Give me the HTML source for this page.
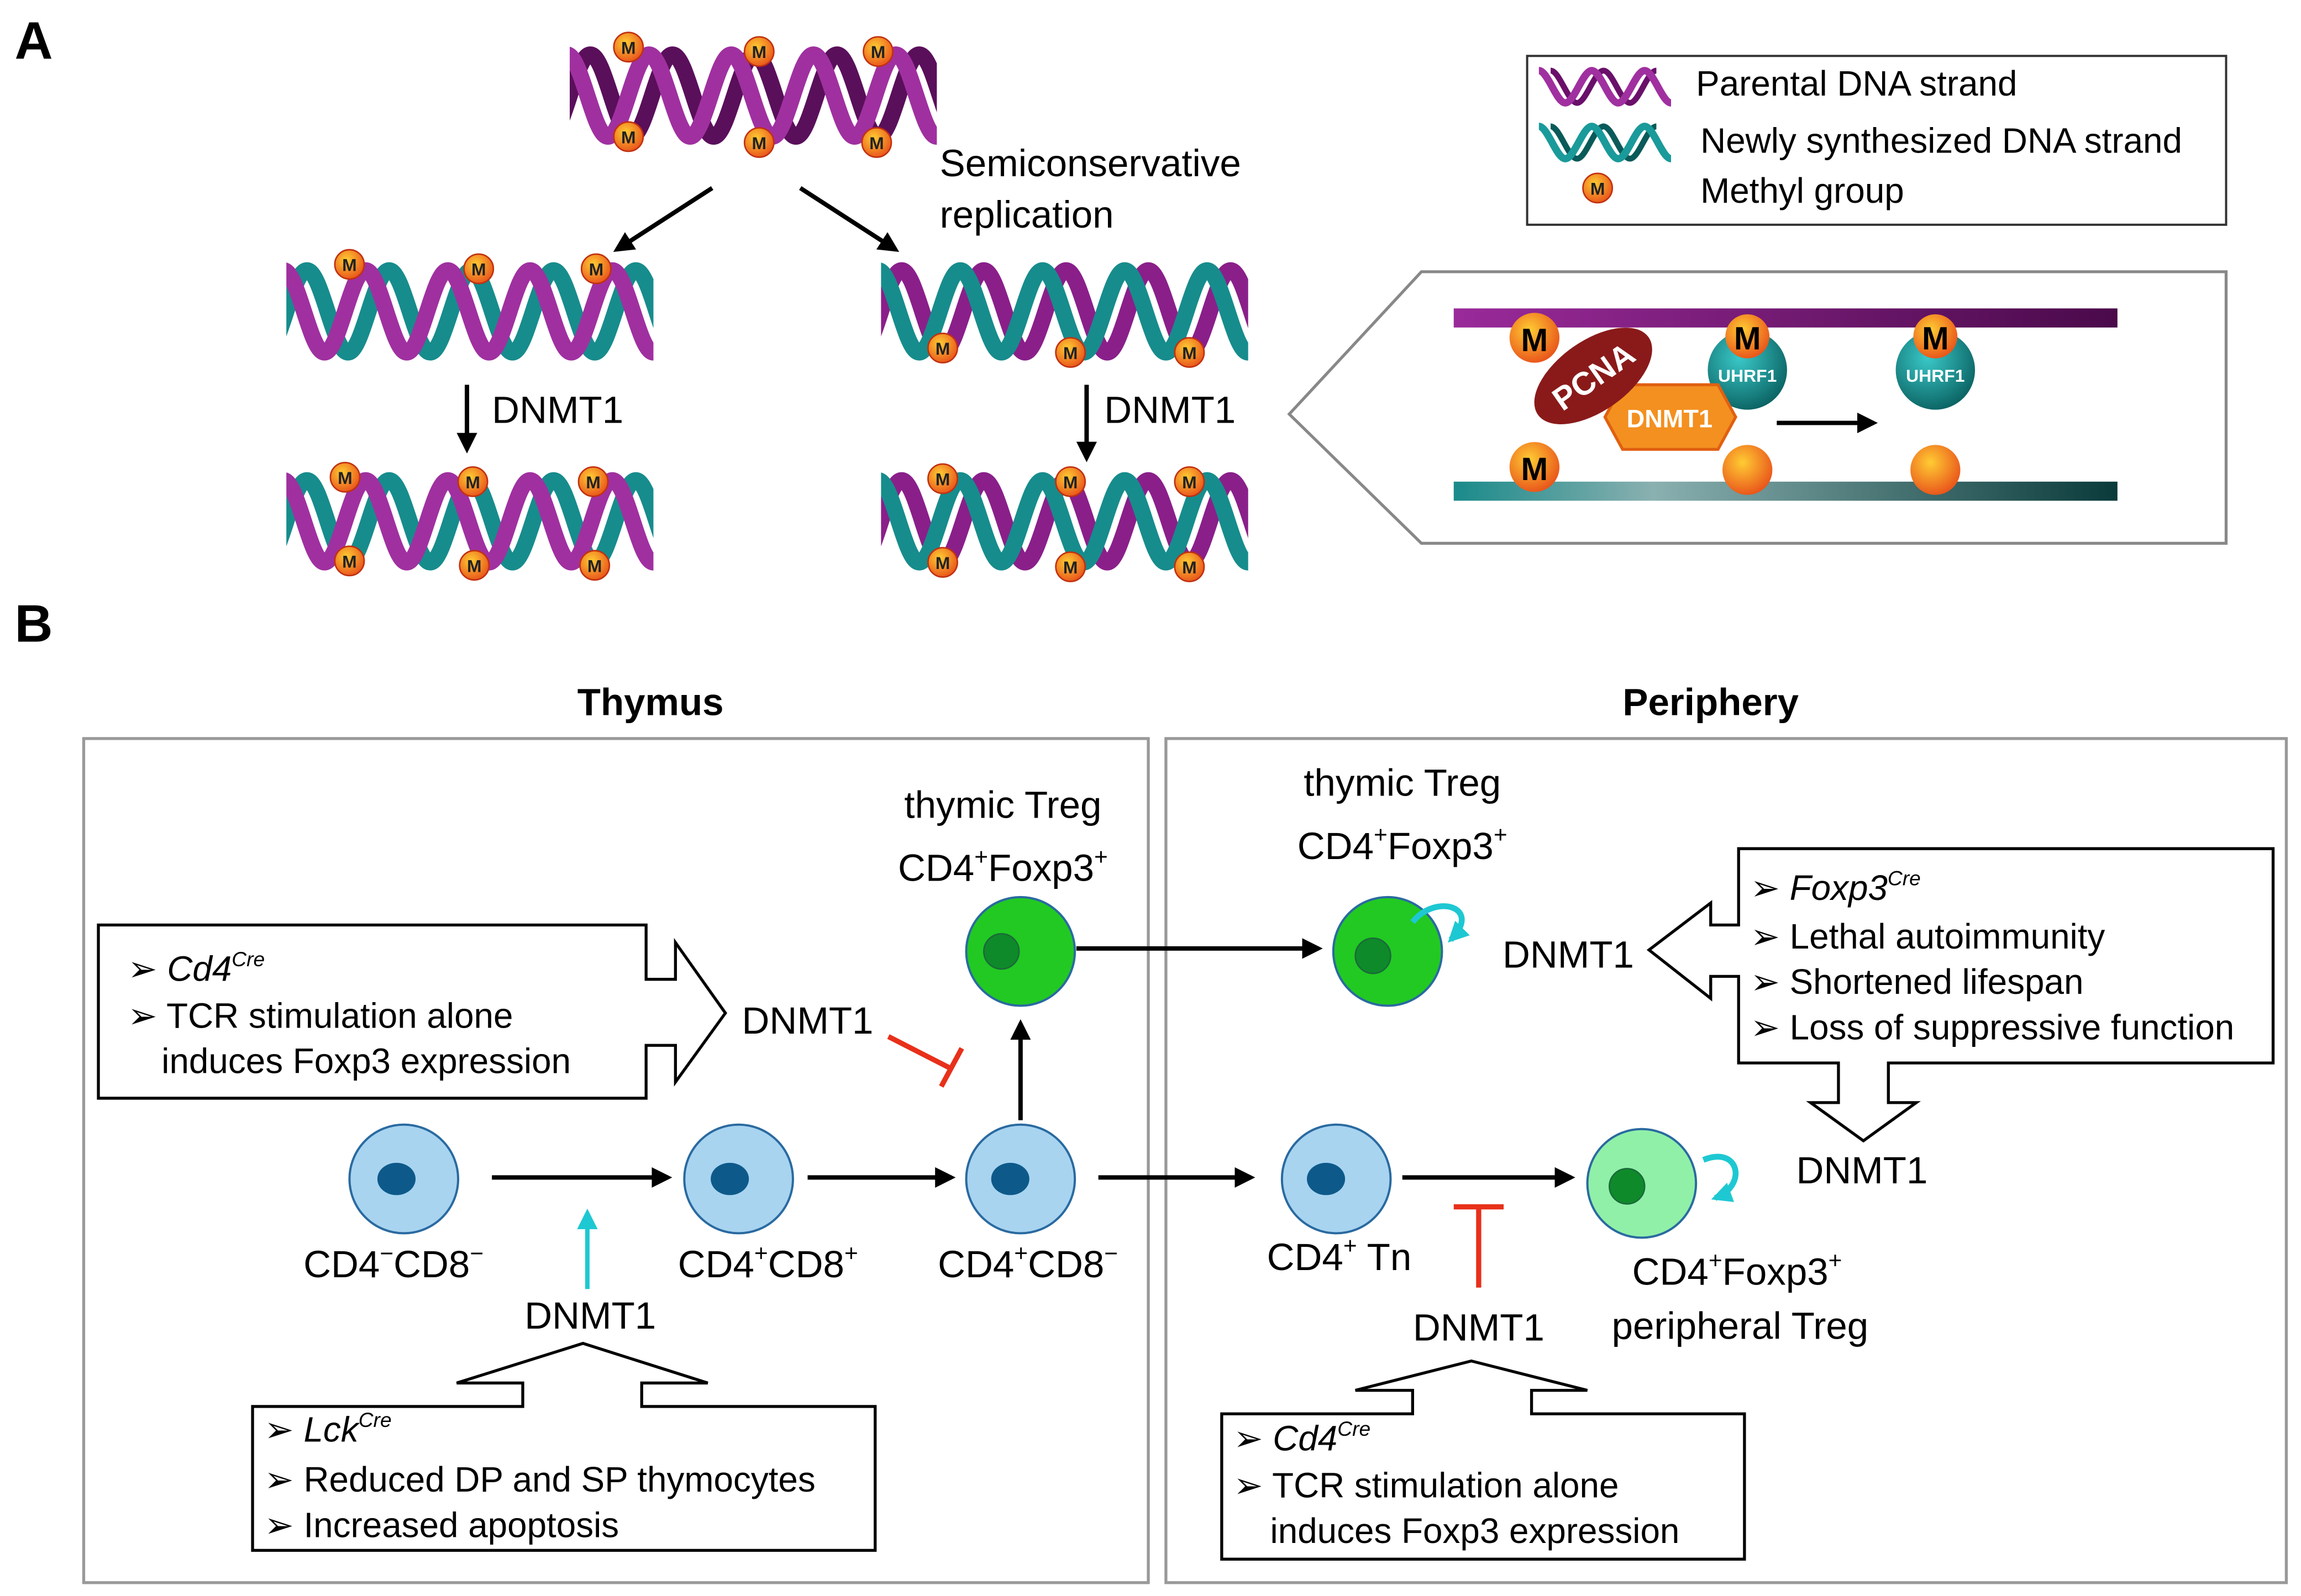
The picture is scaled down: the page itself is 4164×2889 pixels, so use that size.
<!DOCTYPE html>
<html><head><meta charset="utf-8"><style>
html,body{margin:0;padding:0;background:#fff}
svg{display:block}
text{font-family:"Liberation Sans",Arial,sans-serif}
</style></head><body>
<svg width="4164" height="2889" viewBox="0 0 1567 1087" xmlns="http://www.w3.org/2000/svg">
<defs>
<marker id="ah2" viewBox="0 0 10 10" refX="8" refY="5" markerWidth="14" markerHeight="14" orient="auto" markerUnits="userSpaceOnUse"><path d="M0,0 L10,5 L0,10 z" fill="#000"/></marker>
<marker id="ahc" viewBox="0 0 10 10" refX="8" refY="5" markerWidth="14" markerHeight="14" orient="auto" markerUnits="userSpaceOnUse"><path d="M0,0 L10,5 L0,10 z" fill="#1ec8d2"/></marker>
<radialGradient id="mb" cx=".4" cy=".35" r=".7"><stop offset="0" stop-color="#ffcc33"/><stop offset="1" stop-color="#e8501a"/></radialGradient>
<radialGradient id="ub" cx=".4" cy=".35" r=".7"><stop offset="0" stop-color="#3ac8c8"/><stop offset="1" stop-color="#0a6060"/></radialGradient>
<linearGradient id="barp" x1="0" x2="1"><stop offset="0" stop-color="#9a2a9a"/><stop offset="1" stop-color="#4a0a4a"/></linearGradient>
<linearGradient id="bart" x1="0" x2="1"><stop offset="0" stop-color="#1a8a8a"/><stop offset=".3" stop-color="#8ab0b0"/><stop offset="1" stop-color="#0a3a3a"/></linearGradient>
<clipPath id="hc"><rect x="0" y="-10" width="250" height="80"/></clipPath>
<path id="sa" d="M-58,2 c10,0 18,56 28,56 c10,0 18,-56 28,-56 c10,0 18,56 28,56 c10,0 18,-56 28,-56 c10,0 18,56 28,56 c10,0 18,-56 28,-56 c10,0 18,56 28,56 c10,0 18,-56 28,-56 c10,0 18,56 28,56 c10,0 18,-56 28,-56 c10,0 18,56 28,56 c10,0 18,-56 28,-56" fill="none" stroke-width="11"/>
<g id="hpp" clip-path="url(#hc)"><use href="#sa" x="16" stroke="#5a0f5a"/><use href="#sa" stroke="#a030a0"/></g>
<g id="hpt" clip-path="url(#hc)"><use href="#sa" x="16" stroke="#178c8c"/><use href="#sa" stroke="#a030a0"/></g>
<g id="htp" clip-path="url(#hc)"><use href="#sa" x="16" stroke="#8a1f8a"/><use href="#sa" stroke="#178c8c"/></g>
<g id="m"><circle r="10" fill="url(#mb)" stroke="#c03010" stroke-width="1"/><text y="4.5" text-anchor="middle" font-size="12" font-weight="bold" fill="#222">M</text></g>
</defs>

<text x="10" y="40" font-size="36" font-weight="bold">A</text>
<text x="10" y="437" font-size="36" font-weight="bold">B</text>

<!-- DNA -->
<use href="#hpp" transform="translate(388,35)"/>
<use href="#m" x="428" y="32"/><use href="#m" x="517" y="35"/><use href="#m" x="598" y="35"/>
<use href="#m" x="428" y="93"/><use href="#m" x="517" y="97"/><use href="#m" x="597" y="97"/>
<line x1="485" y1="128" x2="420" y2="170" stroke="#000" stroke-width="3" marker-end="url(#ah2)"/>
<line x1="545" y1="128" x2="610" y2="170" stroke="#000" stroke-width="3" marker-end="url(#ah2)"/>
<text x="640" y="120" font-size="26">Semiconservative</text>
<text x="640" y="155" font-size="26">replication</text>

<use href="#hpt" transform="translate(195,182)"/>
<use href="#m" x="238" y="180"/><use href="#m" x="326" y="183"/><use href="#m" x="406" y="183"/>
<use href="#htp" transform="translate(600,182)"/>
<use href="#m" x="642" y="237"/><use href="#m" x="729" y="240"/><use href="#m" x="810" y="240"/>

<line x1="318" y1="262" x2="318" y2="306" stroke="#000" stroke-width="3" marker-end="url(#ah2)"/>
<text x="335" y="288" font-size="26">DNMT1</text>
<line x1="740" y1="262" x2="740" y2="312" stroke="#000" stroke-width="3" marker-end="url(#ah2)"/>
<text x="752" y="288" font-size="26">DNMT1</text>

<use href="#hpt" transform="translate(195,325)"/>
<use href="#m" x="235" y="325"/><use href="#m" x="322" y="328"/><use href="#m" x="404" y="328"/>
<use href="#m" x="238" y="382"/><use href="#m" x="323" y="385"/><use href="#m" x="405" y="385"/>
<use href="#htp" transform="translate(600,325)"/>
<use href="#m" x="642" y="326"/><use href="#m" x="729" y="328"/><use href="#m" x="810" y="328"/>
<use href="#m" x="642" y="383"/><use href="#m" x="729" y="386"/><use href="#m" x="810" y="386"/>

<!-- legend -->
<rect x="1040" y="38" width="476" height="115" fill="#fff" stroke="#333" stroke-width="1.5"/>
<path d="M1056,48 c6,0 12,22 18,22 c6,0 12,-22 18,-22 c6,0 12,22 18,22 c6,0 12,-22 18,-22" fill="none" stroke="#6a106a" stroke-width="4"/>
<path d="M1048,48 c6,0 12,22 18,22 c6,0 12,-22 18,-22 c6,0 12,22 18,22 c6,0 12,-22 18,-22 c6,0 12,22 18,22" fill="none" stroke="#a030a0" stroke-width="5"/>
<path d="M1056,86 c6,0 12,22 18,22 c6,0 12,-22 18,-22 c6,0 12,22 18,22 c6,0 12,-22 18,-22" fill="none" stroke="#0a5a5a" stroke-width="4"/>
<path d="M1048,86 c6,0 12,22 18,22 c6,0 12,-22 18,-22 c6,0 12,22 18,22 c6,0 12,-22 18,-22 c6,0 12,22 18,22" fill="none" stroke="#1a9a9a" stroke-width="5"/>
<use href="#m" x="1088" y="128"/>
<text x="1155" y="65" font-size="24">Parental DNA strand</text>
<text x="1158" y="104" font-size="24">Newly synthesized DNA strand</text>
<text x="1158" y="138" font-size="24">Methyl group</text>

<!-- mechanism panel -->
<path d="M878,282 L968,185 L1516,185 L1516,370 L968,370 Z" fill="#fff" stroke="#888" stroke-width="2"/>
<rect x="990" y="210" width="452" height="13" fill="url(#barp)"/>
<rect x="990" y="328" width="452" height="13" fill="url(#bart)"/>
<circle cx="1190" cy="252" r="27" fill="url(#ub)"/>
<circle cx="1318" cy="252" r="27" fill="url(#ub)"/>
<text x="1190" y="260" font-size="12" font-weight="bold" fill="#fff" text-anchor="middle">UHRF1</text>
<text x="1318" y="260" font-size="12" font-weight="bold" fill="#fff" text-anchor="middle">UHRF1</text>
<circle cx="1190" cy="229" r="15" fill="url(#mb)"/><text x="1190" y="238" font-size="22" font-weight="bold" text-anchor="middle">M</text>
<circle cx="1318" cy="229" r="15" fill="url(#mb)"/><text x="1318" y="238" font-size="22" font-weight="bold" text-anchor="middle">M</text>
<circle cx="1045" cy="230" r="17" fill="url(#mb)"/><text x="1045" y="239" font-size="22" font-weight="bold" text-anchor="middle">M</text>
<circle cx="1045" cy="318" r="17" fill="url(#mb)"/><text x="1045" y="327" font-size="22" font-weight="bold" text-anchor="middle">M</text>
<circle cx="1190" cy="320" r="17" fill="url(#mb)"/>
<circle cx="1318" cy="320" r="17" fill="url(#mb)"/>
<polygon points="1105,262 1170,262 1182,284 1170,306 1105,306 1093,284" fill="#f39020" stroke="#e06010" stroke-width="2"/>
<text x="1137" y="291" font-size="17" font-weight="bold" fill="#fff" text-anchor="middle">DNMT1</text>
<g transform="translate(1085,256) rotate(-35)"><ellipse rx="46" ry="24" fill="#8a1a1a"/><text y="8" font-size="22" font-weight="bold" fill="#fff" text-anchor="middle">PCNA</text></g>
<line x1="1210" y1="288" x2="1276" y2="288" stroke="#000" stroke-width="3" marker-end="url(#ah2)"/>

<!-- Section B -->
<text x="443" y="487" font-size="26" font-weight="bold" text-anchor="middle">Thymus</text>
<text x="1165" y="487" font-size="26" font-weight="bold" text-anchor="middle">Periphery</text>
<rect x="57" y="503" width="725" height="575" fill="none" stroke="#999" stroke-width="2"/>
<rect x="794" y="503" width="763" height="575" fill="none" stroke="#999" stroke-width="2"/>

<!-- cells -->
<g stroke="#2a6aa0" stroke-width="1.5">
<circle cx="275" cy="803" r="37" fill="#a8d4f0"/>
<circle cx="503" cy="803" r="37" fill="#a8d4f0"/>
<circle cx="695" cy="803" r="37" fill="#a8d4f0"/>
<circle cx="910" cy="803" r="37" fill="#a8d4f0"/>
<circle cx="695" cy="648" r="37" fill="#22c922"/>
<circle cx="945" cy="648" r="37" fill="#22c922"/>
<circle cx="1118" cy="806" r="37" fill="#90f0a8"/>
</g>
<g fill="#0d5a8a">
<ellipse cx="270" cy="803" rx="13" ry="11"/><ellipse cx="497" cy="803" rx="13" ry="11"/>
<ellipse cx="688" cy="803" rx="13" ry="11"/><ellipse cx="903" cy="803" rx="13" ry="11"/>
</g>
<circle cx="682" cy="648" r="12" fill="#0f8a2a" stroke="#1a6a3a"/>
<circle cx="935" cy="651" r="12" fill="#0f8a2a" stroke="#1a6a3a"/>
<circle cx="1108" cy="808" r="12" fill="#0f8a2a" stroke="#1a6a3a"/>

<g stroke="#000" stroke-width="3">
<line x1="335" y1="802" x2="455" y2="802" marker-end="url(#ah2)"/>
<line x1="550" y1="802" x2="648" y2="802" marker-end="url(#ah2)"/>
<line x1="695" y1="763" x2="695" y2="697" marker-end="url(#ah2)"/>
<line x1="733" y1="646" x2="898" y2="646" marker-end="url(#ah2)"/>
<line x1="748" y1="802" x2="852" y2="802" marker-end="url(#ah2)"/>
<line x1="955" y1="802" x2="1070" y2="802" marker-end="url(#ah2)"/>
</g>
<g stroke="#e8301a" stroke-width="3.5" fill="none">
<line x1="605" y1="706" x2="648" y2="728"/><line x1="641" y1="740" x2="655" y2="714"/>
<line x1="1007" y1="877" x2="1007" y2="822"/><line x1="990" y1="822" x2="1024" y2="822"/>
</g>
<line x1="400" y1="878" x2="400" y2="826" stroke="#1ec8d2" stroke-width="3" marker-end="url(#ahc)"/>
<path d="M962,628 C978,608 1010,618 988,640" fill="none" stroke="#1ec8d2" stroke-width="4" marker-end="url(#ahc)"/>
<path d="M1160,790 C1185,780 1190,808 1168,816" fill="none" stroke="#1ec8d2" stroke-width="4" marker-end="url(#ahc)"/>

<g font-size="26">
<text x="683" y="557" text-anchor="middle">thymic Treg</text>
<text x="683" y="600" text-anchor="middle">CD4<tspan font-size="16" dy="-11">+</tspan><tspan dy="11">Foxp3</tspan><tspan font-size="16" dy="-11">+</tspan></text>
<text x="955" y="542" text-anchor="middle">thymic Treg</text>
<text x="955" y="585" text-anchor="middle">CD4<tspan font-size="16" dy="-11">+</tspan><tspan dy="11">Foxp3</tspan><tspan font-size="16" dy="-11">+</tspan></text>
<text x="268" y="870" text-anchor="middle">CD4<tspan font-size="16" dy="-11">−</tspan><tspan dy="11">CD8</tspan><tspan font-size="16" dy="-11">−</tspan></text>
<text x="523" y="870" text-anchor="middle">CD4<tspan font-size="16" dy="-11">+</tspan><tspan dy="11">CD8</tspan><tspan font-size="16" dy="-11">+</tspan></text>
<text x="700" y="870" text-anchor="middle">CD4<tspan font-size="16" dy="-11">+</tspan><tspan dy="11">CD8</tspan><tspan font-size="16" dy="-11">−</tspan></text>
<text x="912" y="865" text-anchor="middle">CD4<tspan font-size="16" dy="-11">+</tspan><tspan dy="11"> Tn</tspan></text>
<text x="1183" y="875" text-anchor="middle">CD4<tspan font-size="16" dy="-11">+</tspan><tspan dy="11">Foxp3</tspan><tspan font-size="16" dy="-11">+</tspan></text>
<text x="1185" y="912" text-anchor="middle">peripheral Treg</text>
<text x="402" y="905" text-anchor="middle">DNMT1</text>
<text x="1007" y="913" text-anchor="middle">DNMT1</text>
<text x="550" y="704" text-anchor="middle">DNMT1</text>
<text x="1068" y="659" text-anchor="middle">DNMT1</text>
<text x="1268" y="806" text-anchor="middle">DNMT1</text>
</g>

<!-- callout boxes -->
<g fill="#fff" stroke="#000" stroke-width="2">
<polygon points="67,630 440,630 440,667 460,667 460,642 494,690 460,737 460,712 440,712 440,748 67,748"/>
<polygon points="172,958 356,958 356,942 311,942 397,915 482,942 437,942 437,958 596,958 596,1056 172,1056"/>
<polygon points="832,963 962,963 962,947 923,947 1002,927 1081,947 1043,947 1043,963 1188,963 1188,1062 832,1062"/>
<polygon points="1184,578 1548,578 1548,724 1286,724 1286,751 1305,751 1269,777 1233,751 1252,751 1252,724 1184,724 1184,665 1165,665 1165,680 1123,647 1165,615 1165,630 1184,630"/>
</g>
<g font-size="24">
<text x="87" y="668">➢ <tspan font-style="italic">Cd4</tspan><tspan font-size="14" font-style="italic" dy="-10">Cre</tspan></text>
<text x="87" y="700">➢ TCR stimulation alone</text>
<text x="110" y="731">induces Foxp3 expression</text>
<text x="180" y="982">➢ <tspan font-style="italic">Lck</tspan><tspan font-size="14" font-style="italic" dy="-10">Cre</tspan></text>
<text x="180" y="1016">➢ Reduced DP and SP thymocytes</text>
<text x="180" y="1047">➢ Increased apoptosis</text>
<text x="840" y="988">➢ <tspan font-style="italic">Cd4</tspan><tspan font-size="14" font-style="italic" dy="-10">Cre</tspan></text>
<text x="840" y="1020">➢ TCR stimulation alone</text>
<text x="865" y="1051">induces Foxp3 expression</text>
<text x="1192" y="613">➢ <tspan font-style="italic">Foxp3</tspan><tspan font-size="14" font-style="italic" dy="-10">Cre</tspan></text>
<text x="1192" y="646">➢ Lethal autoimmunity</text>
<text x="1192" y="677">➢ Shortened lifespan</text>
<text x="1192" y="708">➢ Loss of suppressive function</text>
</g>
</svg>
</body></html>
